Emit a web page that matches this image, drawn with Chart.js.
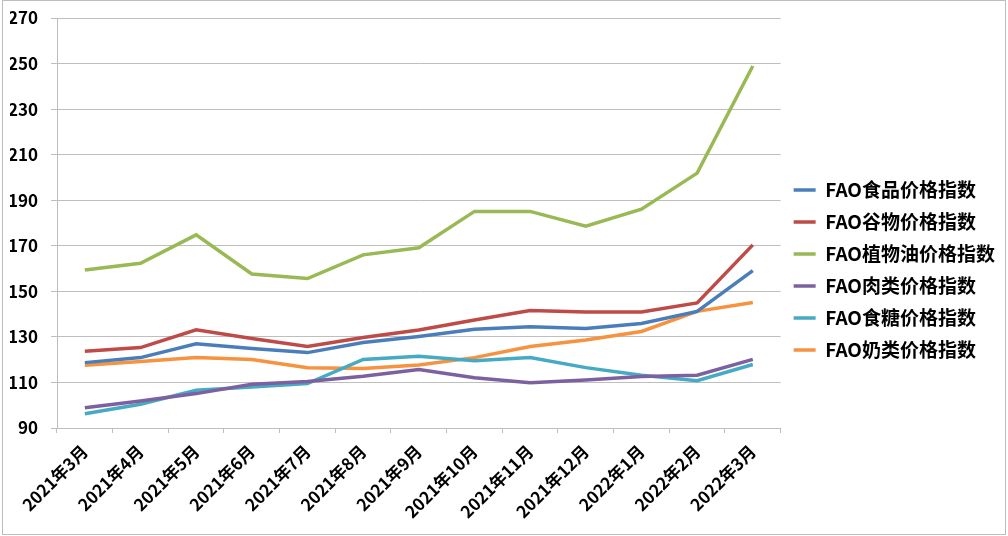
<!DOCTYPE html>
<html>
<head>
<meta charset="utf-8">
<script src="https://cdn.jsdelivr.net/npm/chart.js@4/dist/chart.umd.min.js"></script>
<style>
  html, body { margin: 0; padding: 0; background: #fff; }
  #wrap { position: relative; width: 1008px; height: 536px; }
  #frame { position: absolute; left: 2px; top: 0px; width: 1002px; height: 533px; border: 1px solid #bdbdbd; pointer-events: none; }
</style>
</head>
<body>
<div id="wrap">
  <canvas id="c" width="1008" height="536"></canvas>
  <div id="frame"></div>
</div>
<script>
const categories = ['2021年3月','2021年4月','2021年5月','2021年6月','2021年7月','2021年8月','2021年9月','2021年10月','2021年11月','2021年12月','2022年1月','2022年2月','2022年3月'];
const seriesNames = ['FAO食品价格指数','FAO谷物价格指数','FAO植物油价格指数','FAO肉类价格指数','FAO食糖价格指数','FAO奶类价格指数'];
const foodIndex    = [118.7, 120.9, 127.0, 124.9, 123.1, 127.5, 130.2, 133.4, 134.4, 133.7, 135.9, 141.2, 159.1];
const cerealIndex  = [123.7, 125.3, 133.1, 129.3, 125.8, 129.7, 133.0, 137.4, 141.6, 140.9, 140.9, 144.9, 170.4];
const vegOilIndex  = [159.4, 162.3, 174.8, 157.6, 155.6, 166.0, 169.1, 185.1, 185.1, 178.6, 186.1, 201.9, 248.9];
const meatIndex    = [98.9, 101.9, 105.1, 109.2, 110.4, 112.7, 115.7, 112.1, 109.9, 111.1, 112.6, 113.2, 120.1];
const sugarIndex   = [96.3, 100.4, 106.6, 108.0, 109.5, 120.1, 121.5, 119.5, 120.9, 116.5, 113.2, 110.8, 117.9];
const dairyIndex   = [117.6, 119.2, 120.9, 120.1, 116.5, 116.1, 117.7, 120.9, 125.8, 128.6, 132.4, 141.2, 145.1];
const yTicks = [90, 110, 130, 150, 170, 190, 210, 230, 250, 270];

const seriesValues = [foodIndex, cerealIndex, vegOilIndex, meatIndex, sugarIndex, dairyIndex];
const seriesColors = ['#4A7EBB', '#BE4B48', '#98B954', '#7D60A0', '#46AAC5', '#F69240'];

const FONT = '"Noto Sans CJK SC", "Liberation Sans", sans-serif';
const GRID = '#bebebe';

new Chart(document.getElementById('c'), {
  type: 'line',
  data: {
    labels: categories,
    datasets: seriesNames.map((n, i) => ({
      label: n,
      data: seriesValues[i],
      borderColor: seriesColors[i],
      backgroundColor: seriesColors[i],
      borderWidth: 3.5,
      pointRadius: 0,
      tension: 0,
      fill: false
    }))
  },
  options: {
    responsive: false,
    animation: false,
    layout: { padding: { left: 10, top: 18, right: 3, bottom: 14 } },
    plugins: {
      tooltip: { enabled: false },
      legend: {
        position: 'right',
        labels: {
          usePointStyle: true,
          pointStyle: 'line',
          pointStyleWidth: 22,
          boxHeight: 19,
          padding: 13,
          color: '#000',
          font: { family: FONT, size: 19, weight: 'bold' },
          generateLabels(chart) {
            return chart.data.datasets.map((d, i) => ({
              text: d.label,
              fillStyle: d.borderColor,
              strokeStyle: d.borderColor,
              lineWidth: 3.5,
              pointStyle: 'line',
              datasetIndex: i,
              fontColor: '#000'
            }));
          }
        }
      }
    },
    scales: {
      x: {
        offset: true,
        afterFit(scale) { scale.paddingLeft = 0; scale.paddingRight = 0; scale.height = 94; },
        grid: { offset: true, drawOnChartArea: false, color: GRID, tickLength: 5, lineWidth: 1 },
        border: { display: true, color: GRID, width: 1 },
        ticks: {
          autoSkip: false,
          minRotation: 45,
          maxRotation: 45,
          padding: 8,
          color: '#000',
          font: { family: FONT, size: 17, weight: 'bold' }
        }
      },
      y: {
        min: 90,
        max: 270,
        afterBuildTicks(scale) { scale.ticks = yTicks.map(v => ({ value: v })); },
        afterFit(scale) { scale.paddingTop = 0; scale.paddingBottom = 0; scale.width = 47; },
        grid: { color: GRID, lineWidth: 1, tickLength: 6 },
        border: { display: true, color: GRID, width: 1 },
        ticks: {
          padding: 13,
          color: '#000',
          font: { family: FONT, size: 17, weight: 'bold' }
        }
      }
    }
  }
});
</script>
</body>
</html>
